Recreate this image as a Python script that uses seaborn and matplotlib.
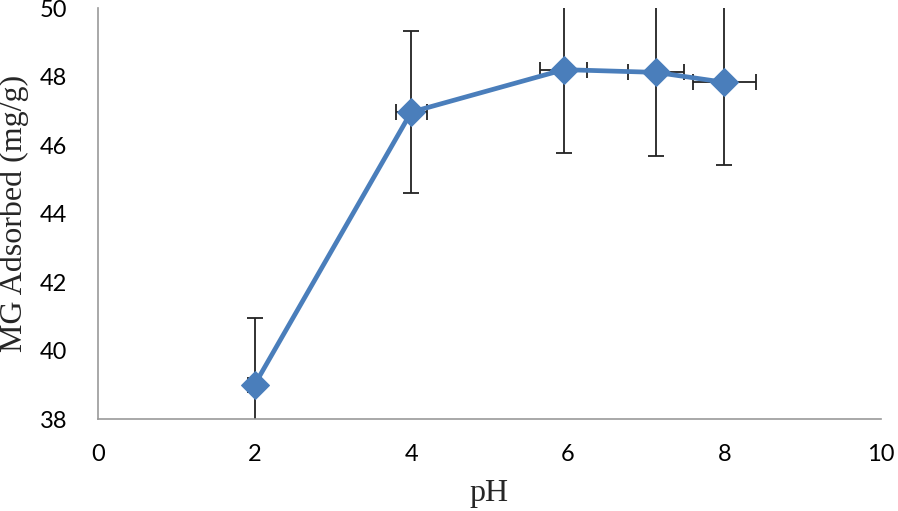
import matplotlib
matplotlib.use("Agg")
import matplotlib.pyplot as plt
import seaborn as sns
import pandas as pd

ph = [2.0, 4.0, 5.95, 7.13, 8.0]
adsorbed = [39.0, 46.96, 48.2, 48.12, 47.83]
y_err = [1.95, 2.36, 2.44, 2.43, 2.42]
x_err = [0.08, 0.2, 0.3, 0.36, 0.4]
x_ticks = [0, 2, 4, 6, 8, 10]
y_ticks = [38, 40, 42, 44, 46, 48, 50]

sns.set_style("white")
df = pd.DataFrame({"pH": ph, "MG": adsorbed})

fig = plt.figure(figsize=(8.98, 5.11), dpi=100)
ax = fig.add_axes([98/898, 1 - 419/511, (881-98)/898, (419-8)/511])

ax.errorbar(ph, adsorbed, yerr=y_err, xerr=x_err, fmt="none", ecolor="#222222",
            elinewidth=1.3, capsize=6, capthick=1.3, zorder=2)
sns.lineplot(data=df, x="pH", y="MG", ax=ax, color="#4A7EBB", linewidth=3.4,
             marker="D", markersize=14, markeredgecolor="#4A7EBB", zorder=3)

ax.set_xlim(0, 10)
ax.set_ylim(38, 50)
ax.set_xticks(x_ticks)
ax.set_yticks(y_ticks)
ax.set_xticklabels([str(t) for t in x_ticks], fontfamily="Lato", fontsize=17)
ax.set_yticklabels([str(t) for t in y_ticks], fontfamily="Lato", fontsize=17)
ax.set_xlabel("pH", fontfamily="Liberation Serif", fontsize=23, labelpad=10)
ax.set_ylabel("MG Adsorbed (mg/g)", fontfamily="Liberation Serif", fontsize=23, labelpad=8)

for s in ["top", "right"]:
    ax.spines[s].set_visible(False)
for s in ["left", "bottom"]:
    ax.spines[s].set_color("#999999")
    ax.spines[s].set_linewidth(1.2)
ax.tick_params(axis="both", which="major", direction="out", length=6, width=1.2,
               color="#999999", labelcolor="#000000")
ax.tick_params(axis="y", pad=16)
ax.tick_params(axis="x", pad=12)
ax.grid(False)

fig.savefig("out.png", dpi=100)
